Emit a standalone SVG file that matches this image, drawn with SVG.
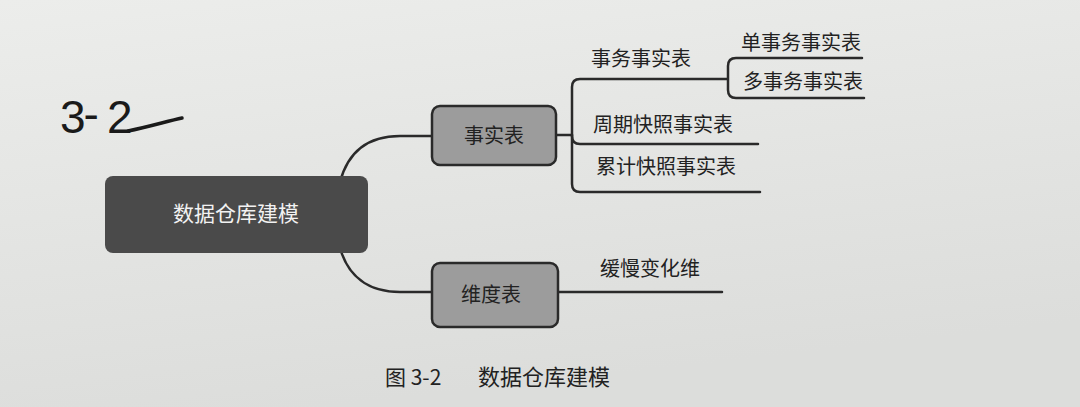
<svg xmlns="http://www.w3.org/2000/svg" width="1080" height="407" viewBox="0 0 1080 407">
<defs>
<linearGradient id="paper" x1="0" y1="0" x2="0.3" y2="1">
<stop offset="0" stop-color="#ecedeb"/>
<stop offset="1" stop-color="#dcdddb"/>
</linearGradient>
</defs>
<style>
.cn{font-family:"Noto Sans CJK SC","Noto Sans",sans-serif;fill:#222}
.ln{fill:none;stroke:#2a2a2a;stroke-width:2.5;stroke-linecap:round;stroke-linejoin:round}
.box{fill:#9c9c9c;stroke:#2a2a2a;stroke-width:2.5}
</style>
<rect width="1080" height="407" fill="url(#paper)"/>
<g id="handwriting">
<text x="60" y="133" font-family="Liberation Sans,sans-serif" font-size="46" fill="#1a1a1a">3<tspan dx="-2" dy="-3">-</tspan><tspan dx="8" dy="3">2</tspan></text>
<path d="M128 131 C148 127 168 121 182 118" fill="none" stroke="#1a1a1a" stroke-width="3.5" stroke-linecap="round"/>
</g>
<g id="connectors">
<path class="ln" d="M340 182 C348 152 368 136 400 136 L432 136"/>
<path class="ln" d="M340 248 C348 276 368 292 400 292 L432 292"/>
<path class="ln" d="M556 135 L572 135"/>
<path class="ln" d="M758 144 L580 144 Q572 144 572 136 L572 87 Q572 79 580 79 L727 79"/>
<path class="ln" d="M572 135 L572 184 Q572 192 580 192 L760 192"/>
<path class="ln" d="M862 58 L736 58 Q728 58 728 66 L728 90 Q728 98 736 98 L864 98"/>
<path class="ln" d="M558 292 L722 292"/>
</g>
<g id="node-root">
<rect x="105" y="176" width="263" height="77" rx="8" fill="#4a4a4a"/>
<text x="236" y="221" class="cn" style="fill:#f2f2f2" font-size="21" text-anchor="middle">数据仓库建模</text>
</g>
<g id="node-fact">
<rect class="box" x="432" y="106" width="124" height="59" rx="8"/>
<text x="494" y="143" class="cn" font-size="20" text-anchor="middle">事实表</text>
</g>
<g id="node-dim">
<rect class="box" x="432" y="263" width="126" height="64" rx="8"/>
<text x="491" y="302" class="cn" font-size="20" text-anchor="middle">维度表</text>
</g>
<g id="node-trans">
<text x="591" y="66" class="cn" font-size="20">事务事实表</text>
</g>
<g id="node-single">
<text x="741" y="50" class="cn" font-size="20">单事务事实表</text>
</g>
<g id="node-multi">
<text x="743" y="89" class="cn" font-size="20">多事务事实表</text>
</g>
<g id="node-periodic">
<text x="593" y="132" class="cn" font-size="20">周期快照事实表</text>
</g>
<g id="node-accum">
<text x="596" y="174" class="cn" font-size="20">累计快照事实表</text>
</g>
<g id="node-scd">
<text x="600" y="276" class="cn" font-size="20">缓慢变化维</text>
</g>
<g id="caption">
<text x="385" y="385" class="cn" font-size="21">图 3-2</text>
<text x="478" y="385" class="cn" font-size="22">数据仓库建模</text>
</g>
</svg>
